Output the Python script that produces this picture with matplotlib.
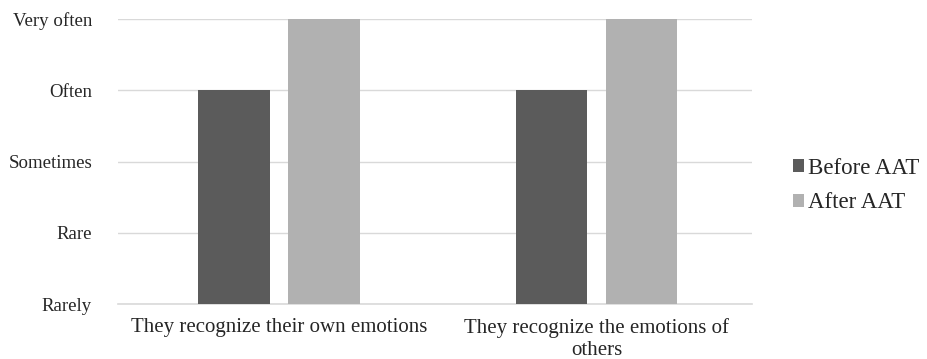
import matplotlib
matplotlib.use("Agg")
import matplotlib.pyplot as plt
import numpy as np
from matplotlib.patches import Patch

plt.rcParams['font.family'] = ['Liberation Serif', 'DejaVu Serif']

categories = ["They recognize their own emotions", "They recognize the emotions of\nothers"]
levels = ["Rarely", "Rare", "Sometimes", "Often", "Very often"]
before_aat = [3, 3]
after_aat = [4, 4]
series_names = ["Before AAT", "After AAT"]
colors = ["#5b5b5b", "#b1b1b1"]

fig = plt.figure(figsize=(9.27, 3.59), dpi=100)
ax = fig.add_axes([0.1273, 0.1532, 0.684, 0.7938])

x = np.arange(len(categories))
w = 0.226
off = 0.142
ax.bar(x - off, before_aat, width=w, color=colors[0], zorder=3)
ax.bar(x + off, after_aat, width=w, color=colors[1], zorder=3)

ax.set_xlim(-0.507, len(categories) - 0.51)
ax.set_ylim(0, 4)
ax.set_yticks(range(len(levels)))
ax.set_yticklabels(levels, fontsize=13.6, color="#262626")
ax.set_xticks(x)
ax.set_xticklabels(categories, fontsize=15, color="#262626", linespacing=1.25)
ax.tick_params(axis='both', length=0)
ax.tick_params(axis='y', pad=18.7)
ax.tick_params(axis='x', pad=10)
ax.yaxis.grid(True, color="#d9d9d9", linewidth=1.0, zorder=0)
ax.axhline(0, color="#d9d9d9", linewidth=1.2, zorder=2, clip_on=False)
for s in ax.spines.values():
    s.set_visible(False)
for lab in ax.get_yticklabels():
    lab.set_horizontalalignment('right')

handles = [Patch(facecolor=c, edgecolor='none') for c in colors]
fig.legend(handles, series_names, loc='center left', bbox_to_anchor=(0.8554, 0.4833),
           frameon=False, fontsize=16.5, handlelength=0.5, handleheight=0.5,
           handletextpad=0.17, labelspacing=0.6, borderpad=0, borderaxespad=0,
           labelcolor="#262626")

fig.savefig("out.png", dpi=100)
